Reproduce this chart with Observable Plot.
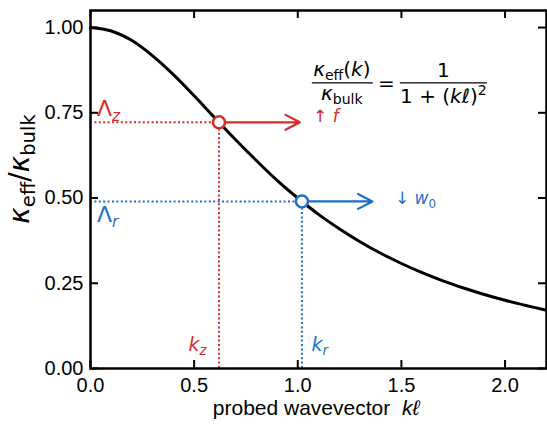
<!DOCTYPE html>
<html><head><meta charset="utf-8">
<script src="https://cdn.jsdelivr.net/npm/d3@7"></script>
<script src="https://cdn.jsdelivr.net/npm/@observablehq/plot@0.6"></script>
<style>body{margin:0;background:#fff}</style>
</head><body><div id="chart"></div>
<script>
// Curve: kappa_eff / kappa_bulk vs k*l
const kl         = [0, 0.1, 0.2, 0.3, 0.4, 0.5, 0.6, 0.7, 0.8, 0.9, 1.0, 1.1, 1.2, 1.3, 1.4, 1.5, 1.6, 1.7, 1.8, 1.9, 2.0, 2.1, 2.2];
const kappaRatio = [1.00, 0.990, 0.962, 0.917, 0.862, 0.800, 0.735, 0.671, 0.610, 0.552, 0.500, 0.452, 0.410, 0.372, 0.338, 0.308, 0.281, 0.257, 0.236, 0.217, 0.200, 0.185, 0.171];

// Probed points
const probeNames  = ["z", "r"];
const probeK      = [0.62, 1.02];
const probeKappa  = [0.722, 0.49];
const arrowEndK   = [1.01, 1.36];
const probeColors = ["#d42b2b", "#1d6fcc"];

// Ticks
const xTicks = [0, 0.5, 1.0, 1.5, 2.0];
const yTicks = [0, 0.25, 0.5, 0.75, 1.0];

const curve = kl.map((k, i) => ({k, v: kappaRatio[i]}));
const probes = probeNames.map((n, i) => ({name: n, k: probeK[i], v: probeKappa[i], end: arrowEndK[i], color: probeColors[i]}));

const MATH = "'DejaVu Sans', sans-serif";
const SANS = "'Liberation Sans', Arial, sans-serif";
const W = 547, H = 431, mT = 10, mB = 63, mL = 90, mR = 1;
const innerH = H - mT - mB, innerW = W - mL - mR;

function rich(g, parts, {x, y, size, fill = "black", anchor = "start", family = MATH, rotate = 0}) {
  const t = g.append("text").attr("x", x).attr("y", y).attr("fill", fill)
    .attr("font-family", family).attr("font-size", size).attr("text-anchor", anchor)
    .style("white-space", "pre");
  if (rotate) t.attr("transform", `rotate(${rotate},${x},${y})`);
  let cur = 0;
  for (const p of parts) {
    const off = p.sub ? 0.22 * size : p.sup ? -0.42 * size : 0;
    const ts = t.append("tspan").text(p.t).attr("dy", off - cur);
    cur = off;
    if (p.i) ts.attr("font-style", "italic");
    if (p.sub || p.sup) ts.attr("font-size", 0.7 * size);
    if (p.f) ts.attr("font-family", p.f);
    if (p.dx) ts.attr("dx", p.dx);
  }
  return t;
}

function annotations(index, scales, values, dims) {
  const sx = scales.x, sy = scales.y;
  const g = d3.create("svg:g");
  const [pz, pr] = probes;
  const red = pz.color, blue = pr.color;
  // Lambda labels near the y axis
  rich(g, [{t: "Λ"}, {t: "z", i: true, sub: true}], {x: sx(0) + 7, y: sy(pz.v) - 6, size: 22, fill: red});
  rich(g, [{t: "Λ"}, {t: "r", i: true, sub: true}], {x: sx(0) + 7, y: sy(pr.v) + 21, size: 22, fill: blue});
  // k labels near the x axis
  rich(g, [{t: "k", i: true}, {t: "z", i: true, sub: true}], {x: sx(pz.k) - 30, y: sy(0) - 17, size: 19, fill: red});
  rich(g, [{t: "k", i: true}, {t: "r", i: true, sub: true}], {x: sx(pr.k) + 10, y: sy(0) - 17, size: 19, fill: blue});
  // effect labels
  rich(g, [{t: "↑ "}, {t: "f", i: true}], {x: sx(1.076), y: sy(pz.v), size: 17, fill: red});
  rich(g, [{t: "↓ "}, {t: "w", i: true}, {t: "0", sub: true}], {x: sx(1.471), y: sy(pr.v) + 3, size: 17, fill: blue});

  // Equation
  const cx = sx(1.215), by = sy(0.836);
  rich(g, [{t: "κ", i: true}, {t: "eff", sub: true}, {t: "("}, {t: "k", i: true}, {t: ")"}], {x: cx, y: by - 7, size: 20, anchor: "middle"});
  g.append("line").attr("x1", cx - 30).attr("x2", cx + 31).attr("y1", by).attr("y2", by).attr("stroke", "black").attr("stroke-width", 1.3);
  rich(g, [{t: "κ", i: true}, {t: "bulk", sub: true}], {x: cx, y: by + 17, size: 20, anchor: "middle"});
  rich(g, [{t: "="}], {x: cx + 44.5, y: by + 7, size: 20, anchor: "middle"});
  const cx2 = cx + 101.5;
  rich(g, [{t: "1"}], {x: cx2, y: by - 6, size: 20, anchor: "middle"});
  g.append("line").attr("x1", cx + 58).attr("x2", cx + 145).attr("y1", by).attr("y2", by).attr("stroke", "black").attr("stroke-width", 1.3);
  rich(g, [{t: "1 + ("}, {t: "kℓ", i: true}, {t: ")"}, {t: "2", sup: true}], {x: cx2, y: by + 20, size: 20, anchor: "middle"});

  // Axis labels
  const {width, height, marginLeft, marginRight, marginTop, marginBottom} = dims;
  const midX = (marginLeft + width - marginRight) / 2;
  rich(g, [{t: "probed wavevector  ", f: SANS}, {t: "kℓ", i: true}], {x: midX - 2, y: height - 16, size: 21, anchor: "middle", family: SANS});
  const midY = (marginTop + height - marginBottom) / 2 - 20;
  rich(g, [{t: "κ", i: true}, {t: "eff", sub: true}, {t: "/"}, {t: "κ", i: true}, {t: "bulk", sub: true}], {x: 29, y: midY, size: 28, anchor: "middle", rotate: -90});
  return g.node();
}

const dotted = "2,2.4";
const chart = Plot.plot({
  width: W, height: H,
  marginTop: mT, marginBottom: mB, marginLeft: mL, marginRight: mR,
  style: {fontFamily: SANS, background: "white", overflow: "visible"},
  x: {domain: [0, 2.2]},
  y: {domain: [0, 1.05]},
  color: {type: "identity"},
  marks: [
    Plot.axisX(xTicks, {tickSize: 0, tickPadding: 9, tickFormat: d3.format(".1f"), fontSize: 20, label: null, fill: "black"}),
    Plot.axisY(yTicks, {tickSize: 0, tickPadding: 7, tickFormat: d3.format(".2f"), fontSize: 20, label: null, fill: "black"}),
    Plot.ruleY(probes, {y: "v", x1: 0, x2: "k", stroke: "color", strokeWidth: 2, strokeDasharray: dotted}),
    Plot.ruleX(probes, {x: "k", y1: 0, y2: "v", stroke: "color", strokeWidth: 2, strokeDasharray: dotted}),
    Plot.line(curve, {x: "k", y: "v", stroke: "black", strokeWidth: 3, curve: "catmull-rom"}),
    Plot.arrow(probes, {x1: "k", y1: "v", x2: "end", y2: "v", stroke: "color", strokeWidth: 2.2, headLength: 11, headAngle: 55}),
    Plot.dot(probes, {x: "k", y: "v", r: 6, fill: "white", stroke: "color", strokeWidth: 2.5}),
    // inward ticks on all four sides
    Plot.tickX(xTicks, {x: d => d, insetTop: innerH - 8, stroke: "black", strokeWidth: 2}),
    Plot.tickX(xTicks, {x: d => d, insetBottom: innerH - 8, stroke: "black", strokeWidth: 2}),
    Plot.tickY(yTicks, {y: d => d, insetRight: innerW - 8, stroke: "black", strokeWidth: 2}),
    Plot.tickY(yTicks, {y: d => d, insetLeft: innerW - 8, stroke: "black", strokeWidth: 2}),
    Plot.frame({stroke: "black", strokeWidth: 2.5}),
    annotations
  ]
});
document.getElementById("chart").append(chart);
</script>
</body></html>
